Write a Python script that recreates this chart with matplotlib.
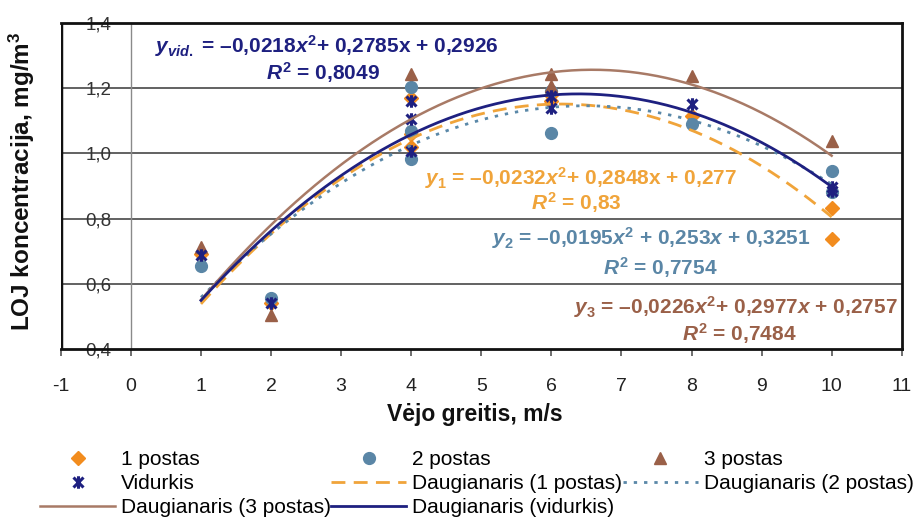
import numpy as np
import matplotlib
matplotlib.use("Agg")
import matplotlib.pyplot as plt
from matplotlib.path import Path

plt.rcParams['font.family'] = ['Liberation Sans', 'DejaVu Sans']
plt.rcParams['mathtext.fontset'] = 'custom'
plt.rcParams['mathtext.rm'] = 'Liberation Sans:bold'
plt.rcParams['mathtext.it'] = 'Liberation Sans:italic:bold'
plt.rcParams['mathtext.bf'] = 'Liberation Sans:bold'

# ---- data ----
post1_x = [1, 2, 4, 4, 4, 6, 6, 8, 10, 10]
post1_y = [0.69, 0.54, 1.17, 1.06, 1.02, 1.16, 1.18, 1.115, 0.832, 0.736]
post2_x = [1, 2, 4, 4, 4, 6, 6, 8, 10, 10]
post2_y = [0.656, 0.558, 1.203, 1.069, 0.983, 1.063, 1.19, 1.09, 0.945, 0.88]
post3_x = [1, 2, 4, 6, 6, 8, 10]
post3_y = [0.712, 0.504, 1.244, 1.244, 1.206, 1.237, 1.038]
vid_x = [1, 2, 4, 4, 4, 6, 6, 8, 10, 10]
vid_y = [0.687, 0.54, 1.16, 1.105, 1.008, 1.175, 1.14, 1.15, 0.898, 0.886]

# trendline coefficients (a, b, c) for a*x^2 + b*x + c
coef1 = (-0.0232, 0.2848, 0.277)
coef2 = (-0.0195, 0.253, 0.3251)
coef3 = (-0.0226, 0.2977, 0.2757)
coefv = (-0.0218, 0.2785, 0.2926)
trend_range = (1, 10)

xticks = list(range(-1, 12))
yticks = [0.4, 0.6, 0.8, 1.0, 1.2, 1.4]
ytick_labels = ['0,4', '0,6', '0,8', '1,0', '1,2', '1,4']

c_orange = '#F28C1E'
c_blue = '#5A86A6'
c_brown = '#9A6048'
c_navy = '#1E2080'
c_brown_line = '#A87A66'
c_orange_line = '#F0A43A'
c_blue_line = '#5A88A8'

# asterisk-like marker (x with vertical bar)
star_path = Path([(-1, -1), (1, 1), (-1, 1), (1, -1), (0, -1.25), (0, 1.25)],
                 [Path.MOVETO, Path.LINETO, Path.MOVETO, Path.LINETO, Path.MOVETO, Path.LINETO])

fig = plt.figure(figsize=(9.22, 5.18), dpi=100)
ax = fig.add_axes([0.066, 0.326, 0.912, 0.630])
ax.set_xlim(-1, 11)
ax.set_ylim(0.4, 1.4)

for g in [0.6, 0.8, 1.0, 1.2]:
    ax.axhline(g, color='#555555', lw=1.3, zorder=1)

for s in ax.spines.values():
    s.set_linewidth(2.0)
    s.set_color('#111111')
ax.spines['left'].set_position(('data', 0))
ax.spines['left'].set_linewidth(1.0)
ax.spines['left'].set_color('#8a8a8a')
ax.axvline(-1, color='#111111', lw=2.5, zorder=3)

ax.set_xticks(xticks)
ax.set_xticklabels([str(v) for v in xticks])
ax.set_yticks(yticks)
ax.set_yticklabels(ytick_labels)
ax.tick_params(axis='x', length=5, width=1.2, color='#555555', pad=16, labelsize=14, labelcolor='#222222')
ax.tick_params(axis='y', length=0, pad=14, labelsize=13.5, labelcolor='#333333')

h1, = ax.plot(post1_x, post1_y, ls='none', marker='D', ms=7, color=c_orange, label='1 postas', zorder=4)
h2, = ax.plot(post2_x, post2_y, ls='none', marker='o', ms=8.5, color=c_blue, label='2 postas', zorder=4)
h3, = ax.plot(post3_x, post3_y, ls='none', marker='^', ms=9, color=c_brown, label='3 postas', zorder=4)
hv, = ax.plot(vid_x, vid_y, ls='none', marker=star_path, ms=9, mew=2.2, color=c_navy, label='Vidurkis', zorder=5)

xs = np.linspace(trend_range[0], trend_range[1], 200)
def poly(c):
    return c[0] * xs ** 2 + c[1] * xs + c[2]

t1, = ax.plot(xs, poly(coef1), ls=(0, (5, 3)), lw=2.0, color=c_orange_line, label='Daugianaris (1 postas)', zorder=6)
t2, = ax.plot(xs, poly(coef2), ls=(0, (1.2, 2.5)), lw=2.0, color=c_blue_line, label='Daugianaris (2 postas)', zorder=6)
t3, = ax.plot(xs, poly(coef3), ls='-', lw=1.8, color=c_brown_line, label='Daugianaris (3 postas)', zorder=6)
tv, = ax.plot(xs, poly(coefv), ls='-', lw=2.0, color=c_navy, label='Daugianaris (vidurkis)', zorder=6)

fs_eq = 15
ax.text(2.79, 1.328, r'$y_{vid.}$ = –0,0218$x^2$+ 0,2785x + 0,2926', color=c_navy,
        fontsize=fs_eq, fontweight='bold', ha='center', va='center', zorder=7)
ax.text(2.74, 1.246, r'$R^2$ = 0,8049', color=c_navy,
        fontsize=fs_eq, fontweight='bold', ha='center', va='center', zorder=7)
ax.text(6.43, 0.925, r'$y_1$ = –0,0232$x^2$+ 0,2848x + 0,277', color=c_orange_line,
        fontsize=fs_eq, fontweight='bold', ha='center', va='center', zorder=7)
ax.text(6.36, 0.849, r'$R^2$ = 0,83', color=c_orange_line,
        fontsize=fs_eq, fontweight='bold', ha='center', va='center', zorder=7)
ax.text(7.42, 0.739, r'$y_2$ = –0,0195$x^2$ + 0,253$x$ + 0,3251', color=c_blue,
        fontsize=fs_eq, fontweight='bold', ha='center', va='center', zorder=7)
ax.text(7.56, 0.650, r'$R^2$ = 0,7754', color=c_blue,
        fontsize=fs_eq, fontweight='bold', ha='center', va='center', zorder=7)
ax.text(8.64, 0.528, r'$y_3$ = –0,0226$x^2$+ 0,2977$x$ + 0,2757', color=c_brown,
        fontsize=fs_eq, fontweight='bold', ha='center', va='center', zorder=7, clip_on=False)
ax.text(8.68, 0.449, r'$R^2$ = 0,7484', color=c_brown,
        fontsize=fs_eq, fontweight='bold', ha='center', va='center', zorder=7)

fig.text(22 / 922, 1 - 181 / 518, 'LOJ koncentracija, mg/m$^3$', rotation=90, fontsize=17.5,
         fontweight='bold', ha='center', va='center', color='#111111')
fig.text(475 / 922, 1 - 414 / 518, 'Vėjo greitis, m/s', fontsize=16.5, fontweight='bold',
         ha='center', va='center', color='#111111')

handles = [h1, hv, t3, h2, t1, tv, h3, t2]
labels = [h.get_label() for h in handles]
leg = fig.legend(handles, labels, ncol=3, loc='upper left', bbox_to_anchor=(40 / 922, 1 - 450 / 518),
                 frameon=False, fontsize=15, handlelength=3.6, handletextpad=0.3,
                 columnspacing=0.0, labelspacing=0.25, borderpad=0, borderaxespad=0)

fig.savefig('out.png', dpi=100)
